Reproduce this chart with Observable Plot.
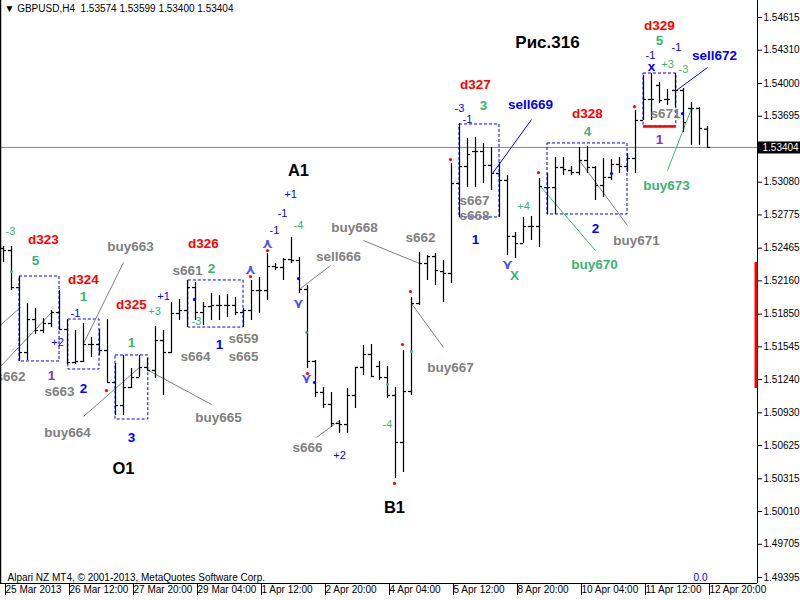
<!DOCTYPE html>
<html><head><meta charset="utf-8">
<script src="https://cdn.jsdelivr.net/npm/d3@7"></script>
<script src="https://cdn.jsdelivr.net/npm/@observablehq/plot@0.6"></script>
<style>
html,body{margin:0;padding:0;background:#fff;}
#chart{width:800px;height:600px;overflow:hidden;}
</style></head><body><div id="chart"></div>
<script>
// ---- OHLC data (GBPUSD H4), bar index 0..88 ----
const opens  = [1.52462,1.52443,1.52098,1.51492,1.51800,1.51698,1.51763,1.51865,1.51707,1.51399,
                1.51409,1.51567,1.51567,1.51511,1.51213,1.50998,1.51166,1.51259,1.51353,1.51325,
                1.51604,1.51492,1.51856,1.51884,1.52098,1.51865,1.51921,1.51931,1.51931,1.51931,
                1.51865,1.51884,1.52070,1.52070,1.52294,1.52285,1.52359,1.52350,1.52080,1.51409,
                1.51120,1.51008,1.50831,1.50821,1.51092,1.51353,1.51474,1.51362,1.51259,1.51092,
                1.50654,1.51129,1.51949,1.52322,1.52387,1.52247,1.52229,1.53068,1.53226,1.53366,
                1.53366,1.53236,1.53161,1.53096,1.52574,1.52508,1.52667,1.52667,1.53030,1.53030,
                1.53217,1.53189,1.53170,1.53282,1.53217,1.53049,1.53124,1.53245,1.53226,1.53301,
                1.53655,1.53851,1.53981,1.53851,1.53935,1.53935,1.53767,1.53767,1.53574];
const highs  = [1.52480,1.52480,1.52201,1.51949,1.51903,1.51809,1.51884,1.52070,1.51800,1.51698,
                1.51763,1.51632,1.51707,1.51800,1.51390,1.51465,1.51343,1.51465,1.51437,1.51735,
                1.51698,1.51959,1.51986,1.52164,1.52145,1.51959,1.52042,1.52024,1.52033,1.52005,
                1.51903,1.52164,1.52192,1.52415,1.52322,1.52369,1.52564,1.52378,1.52117,1.51418,
                1.51166,1.51120,1.50859,1.51157,1.51353,1.51558,1.51567,1.51409,1.51362,1.51166,
                1.51511,1.52005,1.52425,1.52397,1.52415,1.52350,1.53254,1.53627,1.53487,1.53496,
                1.53441,1.53403,1.53263,1.53142,1.52611,1.52751,1.52760,1.53114,1.53161,1.53310,
                1.53310,1.53226,1.53403,1.53413,1.53226,1.53301,1.53291,1.53310,1.53347,1.53748,
                1.54074,1.54093,1.54009,1.53944,1.54093,1.53953,1.53823,1.53776,1.53599];
const lows   = [1.52331,1.52070,1.51409,1.51418,1.51660,1.51670,1.51725,1.51698,1.51381,1.51381,
                1.51399,1.51446,1.51465,1.51204,1.50905,1.50905,1.51157,1.51259,1.51325,1.51250,
                1.51092,1.51483,1.51791,1.51725,1.51791,1.51744,1.51791,1.51791,1.51819,1.51837,
                1.51725,1.51791,1.51856,1.51977,1.52257,1.52164,1.52322,1.52042,1.51343,1.51073,
                1.50970,1.50793,1.50737,1.50737,1.50970,1.51278,1.51259,1.51232,1.51064,1.50318,
                1.50374,1.51092,1.51931,1.52164,1.52117,1.51959,1.52136,1.52751,1.53030,1.53030,
                1.53068,1.53002,1.52751,1.52397,1.52369,1.52508,1.52536,1.52471,1.52779,1.52779,
                1.53142,1.53142,1.53142,1.53161,1.52909,1.52937,1.53096,1.53161,1.53170,1.53161,
                1.53655,1.53655,1.53813,1.53795,1.53776,1.53543,1.53422,1.53422,1.53400];
const closes = [1.52443,1.52098,1.51492,1.51800,1.51698,1.51763,1.51865,1.51707,1.51399,1.51409,
                1.51567,1.51567,1.51511,1.51213,1.50998,1.51166,1.51259,1.51353,1.51325,1.51604,
                1.51492,1.51856,1.51884,1.52098,1.51865,1.51921,1.51931,1.51931,1.51931,1.51865,
                1.51884,1.52070,1.52070,1.52294,1.52285,1.52359,1.52350,1.52080,1.51409,1.51120,
                1.51008,1.50831,1.50821,1.51092,1.51353,1.51474,1.51269,1.51259,1.51092,1.50654,
                1.51129,1.51949,1.52322,1.52387,1.52257,1.52229,1.53068,1.53226,1.53338,1.53366,
                1.53236,1.53161,1.53096,1.52574,1.52508,1.52667,1.52667,1.53040,1.53030,1.53217,
                1.53198,1.53170,1.53282,1.53217,1.53049,1.53124,1.53245,1.53226,1.53301,1.53655,
                1.53851,1.53851,1.53841,1.53851,1.53935,1.53636,1.53767,1.53580,1.53404];

// ---- axes ----
const timeTickBars = [0,8,16,24,32,40,48,56,64,72,80,88];
const timeLabels = ["25 Mar 2013","26 Mar 12:00","27 Mar 20:00","29 Mar 04:00","1 Apr 12:00","2 Apr 20:00",
                    "4 Apr 04:00","5 Apr 12:00","8 Apr 20:00","10 Apr 04:00","11 Apr 12:00","12 Apr 20:00"];
const priceTicks = [1.54615,1.54310,1.54000,1.53695,1.53080,1.52775,1.52465,1.52160,1.51850,
                    1.51545,1.51240,1.50930,1.50625,1.50315,1.50010,1.49705,1.49395];
const lastPrice = 1.53404;
const header = "▼ GBPUSD,H4  1.53574 1.53599 1.53400 1.53404";
const copyright = "Alpari NZ MT4, © 2001-2013, MetaQuotes Software Corp.";
const redZone = [1.52331, 1.51157];

// ---- dashed boxes: [bar from, bar to, price top, price bottom] ----
const boxes = [
  [2, 7, 1.52201, 1.51409],
  [8.1, 12, 1.51800, 1.51334],
  [14, 18.1, 1.51465, 1.50868],
  [23.1, 30, 1.52164, 1.51725],
  [57, 62, 1.53618, 1.52751],
  [68, 78, 1.53441, 1.52779],
  [80, 84.1, 1.54093, 1.53599]
];
const redLevel = [80, 84.1, 1.53599];

// ---- connector lines: [bar1, price1, bar2, price2, colour] ----
const connectors = [
  [-0.375, 1.51748, 2.125, 1.51912, "#808080"],
  [-0.375, 1.51362, 6.125, 1.51875, "#808080"],
  [15, 1.52331, 10, 1.51576, "#808080"],
  [10, 1.50896, 17, 1.51353, "#808080"],
  [18.125, 1.51325, 26, 1.51008, "#808080"],
  [37.125, 1.52089, 40.875, 1.52303, "#808080"],
  [45, 1.52536, 52, 1.52322, "#808080"],
  [39.125, 1.50700, 42, 1.50859, "#808080"],
  [51, 1.51949, 55, 1.51539, "#808080"],
  [61.125, 1.53161, 66, 1.53664, "#0000ff"],
  [67.125, 1.53040, 74, 1.52443, "#3cb371"],
  [72, 1.53282, 78, 1.52676, "#808080"],
  [84.125, 1.53935, 88, 1.54149, "#0000ff"],
  [83, 1.53189, 86, 1.53767, "#3cb371"]
];

// ---- labels: [bar, price, text] ----
const dLabels = [[5,1.52546,"d323"],[10,1.52173,"d324"],[16,1.51940,"d325"],[25,1.52508,"d326"],
                 [59,1.53991,"d327"],[73,1.53720,"d328"],[82,1.54541,"d329"]];
const waveNums = [[4,1.52350,"5"],[10,1.52014,"1"],[16,1.51586,"1"],[26,1.52276,"2"],
                  [60,1.53795,"3"],[73,1.53552,"4"],[82,1.54401,"5"]];
const blueNums = [[10,1.51157,"2"],[16,1.50700,"3"],[27,1.51567,"1"],[59,1.52546,"1"],[74,1.52648,"2"]];
const violetNums = [[6,1.51278,"1"],[82,1.53478,"1"]];
const grayLabels = [[0.875,1.51269,"s662"],[15.875,1.52480,"buy663"],[8,1.50747,"buy664"],
                    [26.875,1.50887,"buy665"],[23,1.52257,"s661"],[24,1.51455,"s664"],
                    [30,1.51623,"s659"],[30,1.51455,"s665"],[7,1.51129,"s663"],
                    [43.875,1.52658,"buy668"],[41.875,1.52387,"sell666"],[52.125,1.52564,"s662"],
                    [55.875,1.51353,"buy667"],[38,1.50607,"s666"],[58.875,1.52909,"s667"],
                    [58.875,1.52770,"s668"],[79.125,1.52536,"buy671"],[82.75,1.53720,"s671"]];
const greenLabels = [[73.875,1.52313,"buy670"],[82.875,1.53049,"buy673"],[63.875,1.52210,"X"]];
const blueLabels = [[65.875,1.53804,"sell669"],[88.875,1.54261,"sell672"],[81,1.54158,"x"]];
const pointLabels = [[36.875,1.53189,"A1"],[15,1.50411,"O1"],[48.875,1.50048,"B1"]];
const figureTitle = [[68,1.54382,"Рис.316"]];
const smallBlue = [[9,1.51856,"-1"],[6.75,1.51586,"+2"],[20,1.52014,"+1"],[35.875,1.52965,"+1"],
                   [34.875,1.52788,"-1"],[33.875,1.52630,"-1"],[42,1.50532,"+2"],[57,1.53767,"-3"],
                   [58,1.53664,"-1"],[80.875,1.54261,"-1"],[84.125,1.54335,"-1"]];
const smallGreen = [[0.875,1.52620,"-3"],[18.875,1.51875,"+3"],[24.125,1.51781,"-3"],[36.875,1.52676,"-4"],
                    [48,1.50821,"-4"],[65,1.52853,"+4"],[83,1.54177,"+3"],[85,1.54130,"-3"]];
const redDots = [[12.875,1.51138],[30.875,1.52201],[33,1.52443],[38,1.51297],[49.875,1.51567],
                 [48.875,1.50272],[50.875,1.52061],[55.875,1.53291],[66.875,1.53170],[78.875,1.53785]];
const blueDots = [[23.875,1.51987],[36.875,1.52182],[38.875,1.51213],[76,1.53161],[84.875,1.53720]];
const greenDots = [[1,1.52247],[37.875,1.51679],[48,1.51194],[51,1.51502]];
const upArrows = [[33,1.52508],[30.875,1.52266]];
const downArrows = [[36.875,1.51949],[37.875,1.51250],[63,1.52313]];

// ---- build ----
const bars = opens.map((o, i) => ({i, open: o, high: highs[i], low: lows[i], close: closes[i]}));
const W = 800, H = 600, mR = 43, mB = 17, barPx = 8;
const xMin = -3 / barPx, xMax = (W - mR - 3) / barPx;
const yDomain = [1.493394, 1.547735];
const tickLen = 3 / barPx;
const pts = a => a.map(([x, y, t]) => ({x, y, t}));
const FONT = "Liberation Sans, Arial, sans-serif";
const bold = (data, fill, size) => Plot.text(pts(data), {x: "x", y: "y", text: "t", fill, fontSize: size, fontWeight: "bold", fontFamily: FONT});
const small = (data, fill) => Plot.text(pts(data), {x: "x", y: "y", text: "t", fill, fontSize: 11, fontFamily: FONT});

const chart = Plot.plot({
  width: W, height: H,
  marginLeft: 0, marginRight: mR, marginTop: 0, marginBottom: mB,
  style: {fontFamily: FONT, fontSize: "10px", background: "#fff", overflow: "visible"},
  x: {type: "linear", domain: [xMin, xMax], axis: null},
  y: {domain: yDomain, axis: null},
  color: {type: "identity"},
  marks: [
    Plot.ruleY([lastPrice], {stroke: "#7a8896", strokeWidth: 1}),
    Plot.rect(boxes, {x1: d => d[0], x2: d => d[1], y1: d => d[2], y2: d => d[3],
      fill: "none", stroke: "#0000ff", strokeDasharray: "3,2", strokeWidth: 1}),
    Plot.link(connectors, {x1: d => d[0], y1: d => d[1], x2: d => d[2], y2: d => d[3],
      stroke: d => d[4], strokeWidth: 1, clip: true}),
    Plot.ruleX(bars, {x: "i", y1: "low", y2: "high", stroke: "black", strokeWidth: 1.25}),
    Plot.ruleY(bars, {y: "open", x1: d => d.i - tickLen, x2: "i", stroke: "black", strokeWidth: 1.25}),
    Plot.ruleY(bars, {y: "close", x1: "i", x2: d => d.i + tickLen, stroke: "black", strokeWidth: 1.25}),
    Plot.ruleY([redLevel], {x1: d => d[0], x2: d => d[1], y: d => d[2], stroke: "#ff0000", strokeWidth: 2.5}),
    Plot.dot(redDots, {x: d => d[0], y: d => d[1], r: 1.6, fill: "#ff0000"}),
    Plot.dot(blueDots, {x: d => d[0], y: d => d[1], r: 1.6, fill: "#0000ff"}),
    Plot.dot(greenDots, {x: d => d[0], y: d => d[1], r: 1.4, fill: "#3cb371"}),
    Plot.text(upArrows, {x: d => d[0], y: d => d[1], text: () => "⋏", fill: "#5050ff", fontSize: 14, fontWeight: "bold", fontFamily: "DejaVu Sans"}),
    Plot.text(downArrows, {x: d => d[0], y: d => d[1], text: () => "⋎", fill: "#5050ff", fontSize: 14, fontWeight: "bold", fontFamily: "DejaVu Sans"}),
    bold(dLabels, "#ff0000", 13.5),
    bold(waveNums, "#3cb371", 13.5),
    bold(blueNums, "#0000ff", 13.5),
    bold(violetNums, "#8a2be2", 13.5),
    bold(grayLabels, "#808080", 13.5),
    bold(greenLabels, "#3cb371", 13.5),
    bold(blueLabels, "#0000ff", 13.5),
    bold(pointLabels, "#000000", 16.5),
    bold(figureTitle, "#000000", 17),
    small(smallBlue, "#0000ff"),
    small(smallGreen, "#3cb371"),
    Plot.text([header], {frameAnchor: "top-left", dx: 4, dy: 4, fontSize: 10, fill: "black", fontFamily: FONT}),
    Plot.text([copyright], {frameAnchor: "bottom-left", dx: 7, dy: -3, fontSize: 10, fill: "black", fontFamily: FONT}),
    Plot.text(["0.0"], {x: 87.125, frameAnchor: "bottom", dy: -3, fontSize: 10, fill: "#0000ff", fontFamily: FONT}),
    Plot.ruleX([xMin], {stroke: "black", strokeWidth: 1.5}),
    Plot.ruleX([xMax], {stroke: "black", strokeWidth: 1}),
    Plot.ruleY([yDomain[0]], {stroke: "black", strokeWidth: 1}),
    Plot.ruleX([xMax], {y1: redZone[0], y2: redZone[1], stroke: "#ff0000", strokeWidth: 3, dx: -1.5}),
    Plot.axisY(priceTicks, {anchor: "right", tickSize: 4, tickPadding: 2, tickFormat: d => d.toFixed(5),
      fontSize: 10, fontFamily: FONT, label: null}),
    Plot.axisX(timeTickBars, {anchor: "bottom", tickSize: 12, tickPadding: -10, textAnchor: "start", dx: 2,
      tickFormat: d => timeLabels[timeTickBars.indexOf(d)], fontSize: 10, fontFamily: FONT, label: null}),
    Plot.ruleY([lastPrice], {x1: xMax, x2: xMax + mR / barPx, stroke: "black", strokeWidth: 12, clip: false}),
    Plot.text([lastPrice], {x: xMax, y: d => d, text: d => d.toFixed(5), textAnchor: "start", dx: 5,
      fill: "white", fontSize: 10, fontFamily: FONT})
  ]
});
document.getElementById("chart").appendChild(chart);
</script>
</body></html>
